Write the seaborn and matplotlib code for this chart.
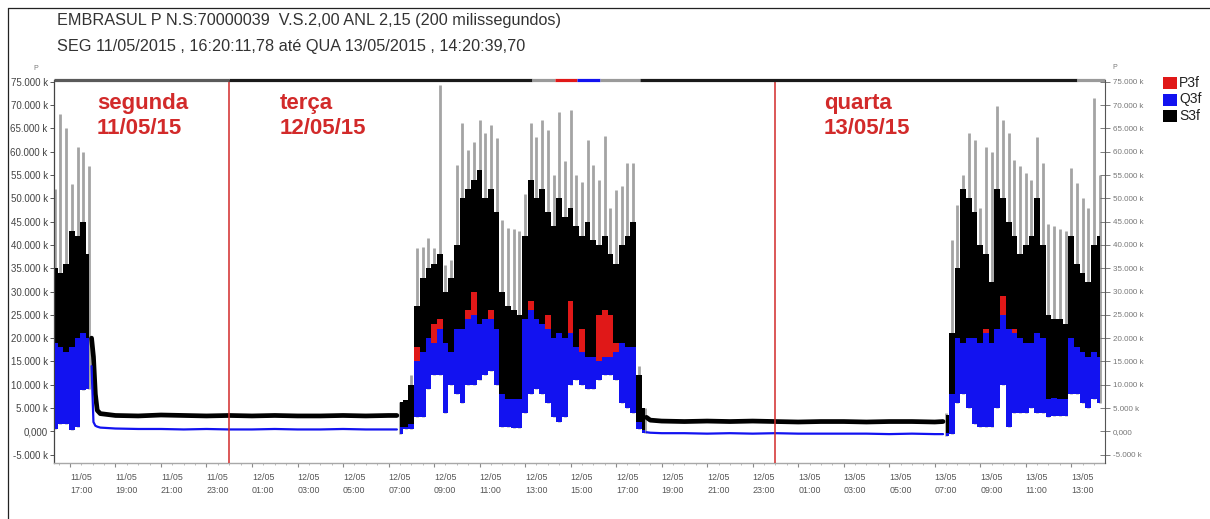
import matplotlib
matplotlib.use("Agg")
import matplotlib.pyplot as plt
import matplotlib.transforms as mtransforms
import matplotlib.dates as mdates
from matplotlib.patches import Rectangle
from matplotlib.lines import Line2D
import pandas as pd
import seaborn as sns

# ---------------- data (thousands, 15-minute windows) ----------------
# Monday 11/05 afternoon
mon_start = "2015-05-11 16:20"
mon_s_max = [52, 68, 65, 53, 61, 60, 57]
mon_s = [35, 34, 36, 43, 42, 45, 38]
mon_p = [19, 18, 17, 18, 20, 21, 20]
mon_q_hi = [19, 18, 17, 18, 20, 21, 20]
mon_q_lo = [0.5, 1.5, 1.5, 0.3, 1.0, 8.9, 9.0]

# Tuesday 12/05 working hours
tue_start = "2015-05-12 07:30"
tue_s_max = [6.3, 6.8, 12, 39.4, 39.6, 41.5, 39.4, 74.3, 35.7, 36.8, 57.2, 66.2,
             60.4, 62.1, 66.8, 64.0, 65.8, 63.0, 45.4, 43.7, 43.5, 43.0, 51.0, 66.2,
             63.2, 66.8, 64.6, 55.0, 68.6, 58.0, 69.0, 55.0, 53.6, 62.6, 57.2, 54.0,
             63.3, 48.0, 51.8, 52.6, 57.5, 57.6, 14, 5]
tue_s = [6.3, 6.8, 10, 27, 33, 35, 36, 38, 30, 33, 40, 50,
         52, 54, 56, 50, 52, 47, 30, 27, 26, 25, 42, 54,
         50, 52, 47, 44, 50, 46, 48, 44, 42, 45, 41, 40,
         42, 38, 36, 40, 42, 45, 12, 5]
tue_p = [1.0, 1.0, 1.5, 18, 17, 20, 23, 24, 19, 17, 22, 22,
         26, 30, 23, 24, 26, 22, 8, 7, 7, 7, 24, 28,
         24, 23, 25, 20, 21, 20, 28, 18, 22, 16, 16, 25,
         26, 25, 19, 19, 18, 18, 2, 0.3]
tue_q_hi = [1.0, 1.0, 1.5, 15, 17, 20, 19, 22, 19, 17, 22, 22,
            24, 25, 23, 24, 24, 22, 8, 7, 7, 7, 24, 26,
            24, 23, 22, 20, 21, 20, 21, 18, 17, 16, 16, 15,
            16, 16, 17, 19, 18, 18, 2, 0.3]
tue_q_lo = [-0.5, 0.4, 0.5, 3, 3, 9, 12, 12, 4, 10, 8, 6,
            10, 10, 11, 12, 13, 10, 1, 1, 0.8, 0.8, 4, 8,
            9, 8, 6, 3, 2, 3, 10, 11, 10, 9, 9, 11,
            12, 12, 11, 6, 5, 4, 0.5, -0.3]

# Wednesday 13/05 morning
wed_start = "2015-05-13 07:30"
wed_s_max = [3.9, 41.1, 48.6, 55.0, 64.0, 62.5, 48.0, 61.0, 60.0, 69.8, 66.9, 64.0,
             58.3, 57.0, 55.4, 54.0, 63.2, 57.6, 44.5, 44.0, 43.5, 43.0, 56.5, 53.4,
             50.0, 48.0, 71.6, 55.0]
wed_s = [3.5, 21, 35, 52, 50, 47, 40, 38, 32, 52, 50, 45,
         42, 38, 40, 42, 50, 40, 25, 24, 24, 23, 42, 36,
         34, 32, 40, 42]
wed_p = [-0.3, 8, 20, 19, 20, 20, 19, 22, 19, 22, 29, 22,
         22, 20, 19, 19, 21, 20, 7, 7.2, 7, 7, 20, 18,
         17, 16, 17, 16]
wed_q_hi = [-0.3, 8, 20, 19, 20, 20, 19, 21, 19, 22, 25, 22,
            21, 20, 19, 19, 21, 20, 7, 7.2, 7, 7, 20, 18,
            17, 16, 17, 16]
wed_q_lo = [-1.0, -0.5, 6, 8, 5, 1.5, 1, 1, 1, 5, 10, 1,
            4, 4, 4, 5, 4, 4, 3, 3.2, 3.2, 3.2, 8, 8,
            6, 5, 7, 6]

# Night base load
night1_time = ["2015-05-11 17:57", "2015-05-11 18:02", "2015-05-11 18:07", "2015-05-11 18:12",
               "2015-05-11 18:20", "2015-05-11 19:00", "2015-05-11 20:00", "2015-05-11 21:00",
               "2015-05-11 22:00", "2015-05-11 23:00", "2015-05-12 00:00", "2015-05-12 01:00",
               "2015-05-12 02:00", "2015-05-12 03:00", "2015-05-12 04:00", "2015-05-12 05:00",
               "2015-05-12 06:00", "2015-05-12 07:00", "2015-05-12 07:22"]
night1_s = [20, 16, 8, 4.5, 3.8, 3.4, 3.3, 3.5, 3.4, 3.3, 3.4, 3.3, 3.4, 3.3, 3.3, 3.4, 3.3, 3.4, 3.4]
night1_q = [14, 2, 1.2, 1.0, 0.8, 0.6, 0.5, 0.5, 0.4, 0.5, 0.4, 0.4, 0.5, 0.4, 0.4, 0.5, 0.4, 0.4, 0.4]

night2_time = ["2015-05-12 18:20", "2015-05-12 18:30", "2015-05-12 19:00", "2015-05-12 20:00",
               "2015-05-12 21:00", "2015-05-12 22:00", "2015-05-12 23:00", "2015-05-13 00:00",
               "2015-05-13 01:00", "2015-05-13 02:00", "2015-05-13 03:00", "2015-05-13 04:00",
               "2015-05-13 05:00", "2015-05-13 06:00", "2015-05-13 07:00", "2015-05-13 07:22"]
night2_s = [3.0, 2.4, 2.2, 2.1, 2.2, 2.1, 2.2, 2.1, 2.0, 2.1, 2.1, 2.0, 2.1, 2.1, 2.0, 2.1]
night2_q = [-0.2, -0.3, -0.4, -0.4, -0.5, -0.4, -0.5, -0.4, -0.5, -0.5, -0.5, -0.5, -0.6, -0.5, -0.6, -0.6]

day_marks = ["2015-05-12 00:00", "2015-05-13 00:00"]
day_labels = ["segunda\n11/05/15", "terça\n12/05/15", "quarta\n13/05/15"]
day_label_at = ["2015-05-11 18:11", "2015-05-12 02:14", "2015-05-13 02:08"]

y_ticks = list(range(-5, 80, 5))
legend_names = ["P3f", "Q3f", "S3f"]

title_1 = "EMBRASUL P N.S:70000039  V.S.2,00 ANL 2,15 (200 milissegundos)"
title_2 = "SEG 11/05/2015 , 16:20:11,78 até QUA 13/05/2015 , 14:20:39,70"

# ---------------- style ----------------
GRAY = "#a4a4a4"
RED = "#e01818"
BLUE = "#1212f0"
MARK_RED = "#d22a2a"

sns.set_theme(style="white")
plt.rcParams["font.family"] = ["Liberation Sans", "DejaVu Sans"]

W, H = 1210, 519
fig = plt.figure(figsize=(W / 100, H / 100), dpi=100)
L, R, T, B = 54, 1105, 80, 463
ax = fig.add_axes([L / W, 1 - B / H, (R - L) / W, (B - T) / H])


def draw_block(start, s_max, s, p, q_hi, q_lo):
    t = pd.date_range(start, periods=len(s), freq="15min")
    ax.vlines(t, q_lo, s_max, color=GRAY, lw=2.0, zorder=1)
    ax.fill_between(t, q_lo, s, step="mid", color="black", lw=0, zorder=2)
    ax.fill_between(t, q_lo, p, step="mid", color=RED, lw=0, zorder=3)
    ax.fill_between(t, q_lo, q_hi, step="mid", color=BLUE, lw=0, zorder=4)


draw_block(mon_start, mon_s_max, mon_s, mon_p, mon_q_hi, mon_q_lo)
draw_block(tue_start, tue_s_max, tue_s, tue_p, tue_q_hi, tue_q_lo)
draw_block(wed_start, wed_s_max, wed_s, wed_p, wed_q_hi, wed_q_lo)

for times, s_vals, q_vals in [(night1_time, night1_s, night1_q), (night2_time, night2_s, night2_q)]:
    df = pd.DataFrame({"t": pd.to_datetime(times), "S": s_vals, "Q": q_vals})
    sns.lineplot(data=df, x="t", y="S", color="black", lw=3.4, ax=ax, zorder=2)
    sns.lineplot(data=df, x="t", y="Q", color=BLUE, lw=1.6, ax=ax, zorder=4)

for d in day_marks:
    ax.axvline(pd.Timestamp(d), color=MARK_RED, lw=1.1, zorder=5)

for txt, at in zip(day_labels, day_label_at):
    ax.text(pd.Timestamp(at), 72.6, txt, color=MARK_RED, fontsize=16, fontweight="bold",
            ha="left", va="top", linespacing=1.25, zorder=6)

# axes ranges
x0 = pd.Timestamp("2015-05-11 16:18")
x1 = pd.Timestamp("2015-05-13 14:29")
ax.set_xlim(x0, x1)
ax.set_ylim(-6.8, 75.4)
ax.set_xlabel("")
ax.set_ylabel("")

# x axis
xt = pd.date_range("2015-05-11 17:00", "2015-05-13 13:00", freq="2h")
ax.set_xticks(xt)
ax.set_xticklabels([t.strftime("%d/%m\n%H:%M") for t in xt])
for lab in ax.get_xticklabels():
    lab.set_ha("left")
    lab.set_linespacing(1.55)
ax.xaxis.set_minor_locator(mdates.MinuteLocator(byminute=[0, 30]))
ax.tick_params(axis="x", which="major", direction="out", length=3, width=0.8,
               color="#8a8a8a", labelsize=6.4, labelcolor="#555555", pad=4, bottom=True)
ax.tick_params(axis="x", which="minor", direction="out", length=1.5, width=0.6,
               color="#b0b0b0", bottom=True)

# left y axis
def y_fmt(v):
    return "0,000" if v == 0 else f"{v}.000 k"

ax.set_yticks(y_ticks)
ax.set_yticklabels([y_fmt(v) for v in y_ticks])
ax.tick_params(axis="y", direction="out", length=3, width=0.7, color="#555555",
               labelsize=7, labelcolor="#444444", pad=1.5, left=True)

for side in ["top", "right"]:
    ax.spines[side].set_visible(False)
ax.spines["left"].set_color("#444444")
ax.spines["left"].set_linewidth(0.9)
ax.spines["bottom"].set_color("#a8a8a8")
ax.spines["bottom"].set_linewidth(1.0)

# right y axis
ax2 = ax.twinx()
ax2.set_ylim(ax.get_ylim())
ax2.set_yticks(y_ticks)
ax2.set_yticklabels([y_fmt(v) for v in y_ticks])
ax2.tick_params(axis="y", direction="inout", length=7, width=0.6, color="#666666",
                labelsize=5.8, labelcolor="#777777", pad=2, right=True)
for side in ["top", "left", "bottom"]:
    ax2.spines[side].set_visible(False)
ax2.spines["right"].set_color("#555555")
ax2.spines["right"].set_linewidth(0.8)
ax2.grid(False)
ax.grid(False)

# time overview bar along the top edge
bar = mtransforms.blended_transform_factory(ax.transData, ax.transAxes)
bar_segments = [
    ("2015-05-11 16:18", "2015-05-12 00:00", "#5a5a5a"),
    ("2015-05-12 00:00", "2015-05-12 13:18", "#1a1a1a"),
    ("2015-05-12 13:18", "2015-05-12 14:19", "#9a9a9a"),
    ("2015-05-12 14:19", "2015-05-12 15:17", RED),
    ("2015-05-12 15:17", "2015-05-12 16:18", BLUE),
    ("2015-05-12 16:18", "2015-05-12 18:03", "#9a9a9a"),
    ("2015-05-12 18:03", "2015-05-13 13:16", "#1a1a1a"),
    ("2015-05-13 13:16", "2015-05-13 14:29", "#9a9a9a"),
]
for a, b, c in bar_segments:
    ax.add_line(Line2D(mdates.date2num([pd.Timestamp(a), pd.Timestamp(b)]), [1, 1],
                       transform=bar, color=c, lw=2.3, solid_capstyle="butt",
                       clip_on=False, zorder=7))

# header text
fig.text(57 / W, 1 - 21 / H, title_1, fontsize=11.7, color="#333333", va="center", ha="left")
fig.text(57 / W, 1 - 47 / H, title_2, fontsize=11.7, color="#333333", va="center", ha="left")
fig.text(33 / W, 1 - 68 / H, "P", fontsize=5, color="#777777", va="center")
fig.text(1112 / W, 1 - 67 / H, "P", fontsize=5, color="#777777", va="center")

# legend
for i, (name, col) in enumerate(zip(legend_names, [RED, BLUE, "black"])):
    yc = 83 + 16.5 * i
    fig.patches.append(Rectangle((1163 / W, 1 - (yc + 6) / H), 14 / W, 12 / H,
                                 transform=fig.transFigure, facecolor=col, edgecolor="none"))
    fig.text(1179 / W, 1 - yc / H, name, fontsize=10, color="#222222", va="center", ha="left")

# outer frame
fig.add_artist(Line2D([8 / W, 8 / W], [0, 1 - 8 / H], transform=fig.transFigure,
                      color="#222222", lw=0.9))
fig.add_artist(Line2D([8 / W, 1], [1 - 8 / H, 1 - 8 / H], transform=fig.transFigure,
                      color="#222222", lw=0.9))

fig.savefig("out.png", dpi=100, facecolor="white")
